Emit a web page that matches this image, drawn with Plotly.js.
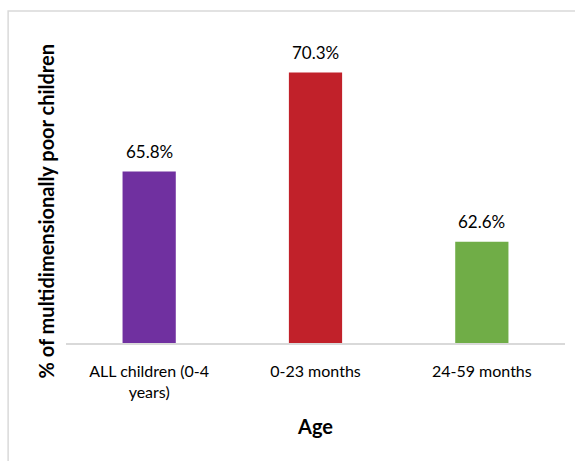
<!DOCTYPE html>
<html>
<head>
<meta charset="utf-8">
<script src="https://cdn.plot.ly/plotly-3.0.1.min.js"></script>
<style>
html,body{margin:0;padding:0;background:#fff;}
#chart{width:575px;height:461px;}
</style>
</head>
<body>
<div id="chart"></div>
<script>
const categories = ["ALL children (0-4<br>years)", "0-23 months", "24-59 months"];
const values = [65.8, 70.3, 62.6];
const labels = ["65.8%", "70.3%", "62.6%"];
const barColors = ["#7030A0", "#C1212A", "#70AD47"];

const FONT = "Lato, 'Open Sans', sans-serif";

const trace = {
  type: "bar",
  x: categories,
  y: values,
  marker: {color: barColors},
  width: 0.32,
  hoverinfo: "none"
};

const annotations = categories.map((c, i) => ({
  x: c, y: values[i], xref: "x", yref: "y",
  text: labels[i], showarrow: false,
  yshift: 20, font: {family: FONT, size: 17, color: "#000"}
}));

annotations.push({
  xref: "paper", yref: "paper",
  x: -0.04, y: 0.427, xanchor: "center", yanchor: "middle",
  text: "<b>% of multidimensionally poor children</b>",
  textangle: -90, showarrow: false,
  font: {family: FONT, size: 20, color: "#000"}
});

const layout = {
  width: 575, height: 461,
  margin: {l: 66, r: 10, t: 35, b: 118},
  paper_bgcolor: "#fff", plot_bgcolor: "#fff",
  showlegend: false,
  bargap: 0.68,
  xaxis: {
    showline: true, linecolor: "#d9d9d9", linewidth: 1.5,
    ticks: "", ticklabelstandoff: 13,
    tickfont: {family: FONT, size: 16, color: "#000"},
    title: {text: "<b>Age</b>", standoff: 20, font: {family: FONT, size: 20, color: "#000"}},
    fixedrange: true
  },
  yaxis: {
    range: [58, 72],
    showticklabels: false, showgrid: false, zeroline: false, showline: false,
    ticks: "", fixedrange: true
  },
  annotations: annotations,
  shapes: [{
    type: "rect", xref: "paper", yref: "paper",
    x0: -0.116, x1: 1.2, y0: -0.6, y1: 1.078,
    line: {color: "#d9d9d9", width: 1.5}, fillcolor: "rgba(0,0,0,0)", layer: "below"
  }]
};

Plotly.newPlot("chart", [trace], layout, {displayModeBar: false, staticPlot: true});
</script>
</body>
</html>
